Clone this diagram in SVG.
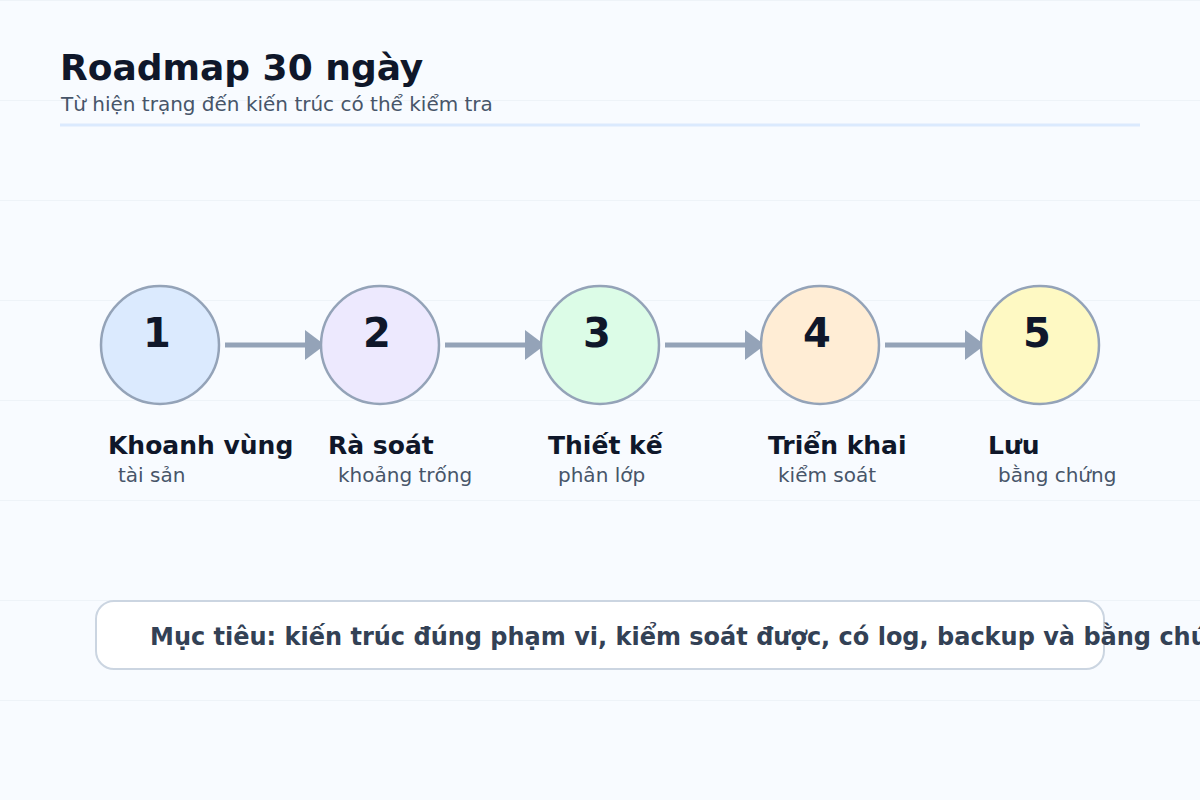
<svg xmlns="http://www.w3.org/2000/svg" width="1200" height="800" viewBox="0 0 1200 800">
  <defs>
    <style>
      .bg { fill: #f8fbff; }
      .grid line { stroke: #eef3f8; stroke-width: 1; }
      .title { font-family: "DejaVu Sans", sans-serif; font-weight: bold; font-size: 36px; fill: #0f172a; }
      .subtitle { font-family: "DejaVu Sans", sans-serif; font-size: 20px; fill: #475569; }
      .step circle { stroke: #94a3b8; stroke-width: 2.5; }
      .num { font-family: "DejaVu Sans", sans-serif; font-weight: bold; font-size: 40px; fill: #0f172a; text-anchor: middle; }
      .label { font-family: "DejaVu Sans", sans-serif; font-weight: bold; font-size: 25px; fill: #0f172a; }
      .sub { font-family: "DejaVu Sans", sans-serif; font-size: 20px; fill: #475569; }
      .conn line { stroke: #94a3b8; stroke-width: 5; }
      .goal-box { fill: #ffffff; stroke: #cbd5e1; stroke-width: 2; }
      .goal-text { font-family: "DejaVu Sans", sans-serif; font-weight: bold; font-size: 24px; fill: #334155; }
    </style>
    <marker id="arrow" markerWidth="4" markerHeight="6" refX="0" refY="3" orient="auto" markerUnits="strokeWidth">
      <path d="M0,0 L4,3 L0,6 Z" fill="#94a3b8"/>
    </marker>
  </defs>

  <rect class="bg" x="0" y="0" width="1200" height="800"/>
  <g class="grid">
    <line x1="0" y1="0.5" x2="1200" y2="0.5"/>
    <line x1="0" y1="100.5" x2="1200" y2="100.5"/>
    <line x1="0" y1="200.5" x2="1200" y2="200.5"/>
    <line x1="0" y1="300.5" x2="1200" y2="300.5"/>
    <line x1="0" y1="400.5" x2="1200" y2="400.5"/>
    <line x1="0" y1="500.5" x2="1200" y2="500.5"/>
    <line x1="0" y1="600.5" x2="1200" y2="600.5"/>
    <line x1="0" y1="700.5" x2="1200" y2="700.5"/>
  </g>

  <g id="header">
    <text class="title" x="60" y="80">Roadmap 30 ngày</text>
    <text class="subtitle" x="61" y="111">Từ hiện trạng đến kiến trúc có thể kiểm tra</text>
    <line x1="60" y1="125" x2="1140" y2="125" stroke="#dbeafe" stroke-width="3"/>
  </g>

  <g id="connectors" class="conn">
    <line x1="225" y1="345" x2="305" y2="345" marker-end="url(#arrow)"/>
    <line x1="445" y1="345" x2="525" y2="345" marker-end="url(#arrow)"/>
    <line x1="665" y1="345" x2="745" y2="345" marker-end="url(#arrow)"/>
    <line x1="885" y1="345" x2="965" y2="345" marker-end="url(#arrow)"/>
  </g>

  <g id="step1" class="step">
    <circle cx="160" cy="345" r="59" fill="#dbeafe"/>
    <text class="num" x="157" y="347">1</text>
    <text class="label" x="108" y="454">Khoanh vùng</text>
    <text class="sub" x="118" y="482">tài sản</text>
  </g>
  <g id="step2" class="step">
    <circle cx="380" cy="345" r="59" fill="#ede9fe"/>
    <text class="num" x="377" y="347">2</text>
    <text class="label" x="328" y="454">Rà soát</text>
    <text class="sub" x="338" y="482">khoảng trống</text>
  </g>
  <g id="step3" class="step">
    <circle cx="600" cy="345" r="59" fill="#dcfce7"/>
    <text class="num" x="597" y="347">3</text>
    <text class="label" x="548" y="454">Thiết kế</text>
    <text class="sub" x="558" y="482">phân lớp</text>
  </g>
  <g id="step4" class="step">
    <circle cx="820" cy="345" r="59" fill="#ffedd5"/>
    <text class="num" x="817" y="347">4</text>
    <text class="label" x="768" y="454">Triển khai</text>
    <text class="sub" x="778" y="482">kiểm soát</text>
  </g>
  <g id="step5" class="step">
    <circle cx="1040" cy="345" r="59" fill="#fef9c3"/>
    <text class="num" x="1037" y="347">5</text>
    <text class="label" x="988" y="454">Lưu</text>
    <text class="sub" x="998" y="482">bằng chứng</text>
  </g>

  <g id="goal">
    <rect class="goal-box" x="96" y="601" width="1008" height="68" rx="18"/>
    <text class="goal-text" x="150" y="645">Mục tiêu: kiến trúc đúng phạm vi, kiểm soát được, có log, backup và bằng chứng</text>
  </g>
</svg>
